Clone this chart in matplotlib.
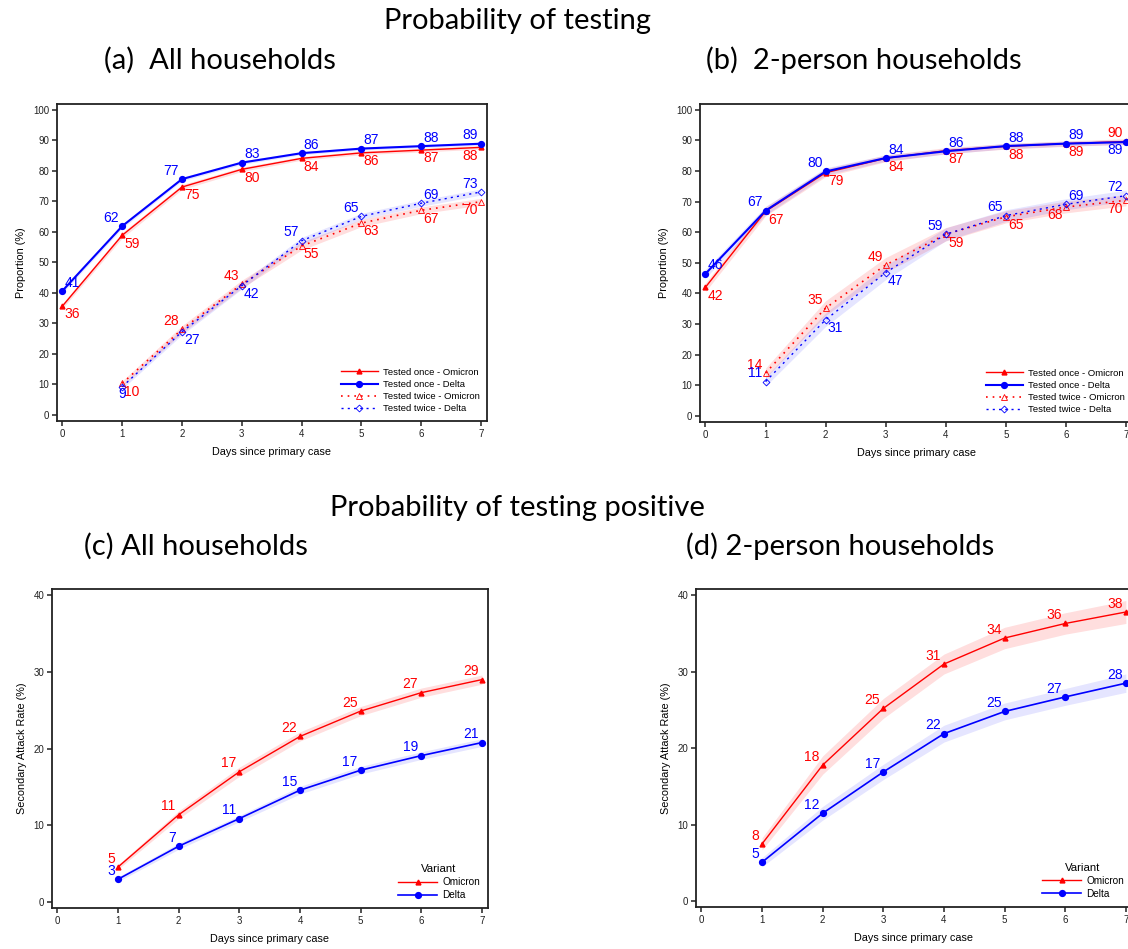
import matplotlib.pyplot as plt

plt.rcParams['font.family'] = ['Liberation Sans', 'DejaVu Sans']

days = [0, 1, 2, 3, 4, 5, 6, 7]
days_from1 = [1, 2, 3, 4, 5, 6, 7]

# (a) all households, probability of testing
a_once_omicron = [35.6, 58.8, 74.6, 80.4, 84.0, 85.8, 86.7, 87.6]
a_once_delta = [40.6, 61.8, 77.2, 82.6, 85.7, 87.2, 88.0, 88.8]
a_twice_omicron = [10.3, 28.0, 42.8, 55.3, 62.8, 67.0, 69.8]
a_twice_delta = [9.2, 27.2, 42.3, 57.0, 65.0, 69.3, 73.0]
a_once_omicron_ci = [0.8, 0.9, 0.8, 0.7, 0.6, 0.6, 0.6, 0.6]
a_once_delta_ci = [0.7, 0.7, 0.6, 0.6, 0.5, 0.5, 0.5, 0.5]
a_twice_omicron_ci = [0.8, 1.2, 1.3, 1.3, 1.2, 1.1, 1.1]
a_twice_delta_ci = [0.7, 1.0, 1.1, 1.1, 1.0, 1.0, 1.0]

# (b) 2-person households, probability of testing
b_once_omicron = [42.0, 66.8, 79.4, 84.1, 86.6, 88.0, 88.9, 89.6]
b_once_delta = [46.4, 67.0, 79.8, 84.2, 86.4, 88.1, 88.9, 89.4]
b_twice_omicron = [14.0, 35.2, 49.3, 59.3, 65.0, 68.2, 70.4]
b_twice_delta = [11.2, 31.4, 46.8, 59.3, 65.4, 69.1, 71.9]
b_once_omicron_ci = [1.4, 1.5, 1.3, 1.1, 1.0, 0.9, 0.9, 0.9]
b_once_delta_ci = [1.4, 1.4, 1.2, 1.0, 0.9, 0.9, 0.8, 0.8]
b_twice_omicron_ci = [1.6, 2.4, 2.4, 2.2, 2.0, 1.9, 1.8]
b_twice_delta_ci = [1.5, 2.2, 2.3, 2.1, 1.9, 1.8, 1.8]

# (c) all households, secondary attack rate
c_omicron = [4.6, 11.4, 17.0, 21.6, 24.9, 27.3, 29.0]
c_delta = [3.0, 7.3, 10.9, 14.6, 17.2, 19.1, 20.8]
c_omicron_ci = [0.3, 0.5, 0.6, 0.6, 0.6, 0.6, 0.6]
c_delta_ci = [0.3, 0.4, 0.4, 0.5, 0.5, 0.5, 0.5]

# (d) 2-person households, secondary attack rate
d_omicron = [7.5, 17.8, 25.2, 31.0, 34.4, 36.3, 37.8]
d_delta = [5.1, 11.5, 16.9, 21.9, 24.8, 26.7, 28.5]
d_omicron_ci = [0.8, 1.2, 1.3, 1.3, 1.4, 1.4, 1.5]
d_delta_ci = [0.6, 0.9, 1.0, 1.1, 1.1, 1.1, 1.2]

# where each value label sits relative to its point
a_pos = {
    'once_om': ['br', 'br', 'br', 'br', 'br', 'br', 'br', 'bl'],
    'once_de': ['ar', 'al', 'al', 'ar', 'ar', 'ar', 'ar', 'al'],
    'twice_om': ['br', 'al', 'al', 'br', 'br', 'br', 'bl'],
    'twice_de': ['b', 'br', 'br', 'al', 'al', 'ar', 'al'],
}
b_pos = {
    'once_om': ['br', 'br', 'br', 'br', 'br', 'br', 'br', 'al'],
    'once_de': ['ar', 'al', 'al', 'ar', 'ar', 'ar', 'ar', 'bl'],
    'twice_om': ['al', 'al', 'al', 'br', 'br', 'bl', 'bl'],
    'twice_de': ['al', 'br', 'br', 'al', 'al', 'ar', 'al'],
}

RED = '#ff0000'
BLUE = '#0000ff'
OFFS = {
    'br': (1.6, -6.0, 'left'),
    'bl': (-2.2, -6.0, 'right'),
    'ar': (1.6, 6.0, 'left'),
    'al': (-2.2, 6.0, 'right'),
    'b': (0.0, -5.5, 'center'),
}


def label_points(ax, xs, ys, color, pos):
    for x, y, p in zip(xs, ys, pos):
        dx, dy, ha = OFFS[p]
        ax.annotate(f'{y:.0f}', (x, y), xytext=(dx, dy), textcoords='offset points',
                    ha=ha, va='center', color=color, fontsize=10)


def band(ax, xs, ys, ci, color, alpha):
    ax.fill_between(xs, [v - c for v, c in zip(ys, ci)], [v + c for v, c in zip(ys, ci)],
                    color=color, alpha=alpha, lw=0)


def style_axes(ax, ylim, yticks, ylabel):
    ax.set_xlim(-0.09, 7.1)
    ax.set_ylim(*ylim)
    ax.set_xticks(days)
    ax.set_yticks(yticks)
    for s in ax.spines.values():
        s.set_linewidth(1.3)
        s.set_color('#222222')
    ax.tick_params(direction='out', length=3.5, width=1.1, labelsize=7, pad=2,
                   colors='#222222')
    ax.set_xlabel('Days since primary case', fontsize=7.8, labelpad=6)
    ax.set_ylabel(ylabel, fontsize=7.8, labelpad=5)


def testing_panel(ax, once_om, once_de, twice_om, twice_de, cis, pos):
    band(ax, days, once_om, cis[0], RED, 0.13)
    band(ax, days, once_de, cis[1], BLUE, 0.10)
    band(ax, days_from1, twice_om, cis[2], RED, 0.13)
    band(ax, days_from1, twice_de, cis[3], BLUE, 0.10)
    ax.plot(days, once_om, color=RED, lw=1.0, marker='^', ms=3.5,
            label='Tested once - Omicron')
    ax.plot(days, once_de, color=BLUE, lw=1.5, marker='o', ms=4.2,
            label='Tested once - Delta')
    ax.plot(days_from1, twice_om, color=RED, lw=1.2, ls=(0, (1, 3)), marker='^', ms=4,
            mfc='none', mew=0.6, label='Tested twice - Omicron')
    ax.plot(days_from1, twice_de, color=BLUE, lw=1.0, ls=(0, (1.5, 3)), marker='D', ms=3.5,
            mfc='none', mew=0.6, label='Tested twice - Delta')
    label_points(ax, days, once_om, RED, pos['once_om'])
    label_points(ax, days, once_de, BLUE, pos['once_de'])
    label_points(ax, days_from1, twice_om, RED, pos['twice_om'])
    label_points(ax, days_from1, twice_de, BLUE, pos['twice_de'])
    style_axes(ax, (-2, 101.8), range(0, 101, 10), 'Proportion (%)')
    ax.legend(loc='lower right', frameon=False, fontsize=6.8, handlelength=3.9,
              labelspacing=0.35, borderaxespad=0.4, handletextpad=0.5)


def sar_panel(ax, om, de, om_ci, de_ci):
    band(ax, days_from1, om, om_ci, RED, 0.13)
    band(ax, days_from1, de, de_ci, BLUE, 0.10)
    ax.plot(days_from1, om, color=RED, lw=1.0, marker='^', ms=3.5, label='Omicron')
    ax.plot(days_from1, de, color=BLUE, lw=1.2, marker='o', ms=4.2, label='Delta')
    label_points(ax, days_from1, om, RED, ['al'] * len(om))
    label_points(ax, days_from1, de, BLUE, ['al'] * len(de))
    style_axes(ax, (-0.75, 40.8), range(0, 41, 10), 'Secondary Attack Rate (%)')
    leg = ax.legend(loc='lower right', frameon=False, fontsize=7.2, title='Variant',
                    title_fontsize=8.2, handlelength=3.9, labelspacing=0.3,
                    borderaxespad=0.4, handletextpad=0.5)
    leg._legend_box.align = 'center'


fig = plt.figure(figsize=(11.28, 9.49), dpi=100)
ax_a = fig.add_axes([0.0505, 0.5564, 0.3812, 0.334])
ax_b = fig.add_axes([0.6206, 0.5553, 0.383, 0.335])
ax_c = fig.add_axes([0.0461, 0.0432, 0.3865, 0.3361])
ax_d = fig.add_axes([0.6170, 0.0443, 0.3865, 0.335])

testing_panel(ax_a, a_once_omicron, a_once_delta, a_twice_omicron, a_twice_delta,
              [a_once_omicron_ci, a_once_delta_ci, a_twice_omicron_ci, a_twice_delta_ci], a_pos)
testing_panel(ax_b, b_once_omicron, b_once_delta, b_twice_omicron, b_twice_delta,
              [b_once_omicron_ci, b_once_delta_ci, b_twice_omicron_ci, b_twice_delta_ci], b_pos)
sar_panel(ax_c, c_omicron, c_delta, c_omicron_ci, c_delta_ci)
sar_panel(ax_d, d_omicron, d_delta, d_omicron_ci, d_delta_ci)

title_font = ['Lato', 'DejaVu Sans']
fig.text(0.4585, 1 - 21 / 949, 'Probability of testing', ha='center', va='center',
         fontsize=21, family=title_font)
fig.text(0.195, 1 - 60 / 949, '(a)  All households', ha='center', va='center',
         fontsize=21, family=title_font)
fig.text(0.766, 1 - 60 / 949, '(b)  2-person households', ha='center', va='center',
         fontsize=21, family=title_font)
fig.text(0.459, 1 - 508 / 949, 'Probability of testing positive', ha='center', va='center',
         fontsize=21, family=title_font)
fig.text(0.174, 1 - 546 / 949, '(c) All households', ha='center', va='center',
         fontsize=21, family=title_font)
fig.text(0.745, 1 - 546 / 949, '(d) 2-person households', ha='center', va='center',
         fontsize=21, family=title_font)

fig.savefig('out.png', dpi=100)
